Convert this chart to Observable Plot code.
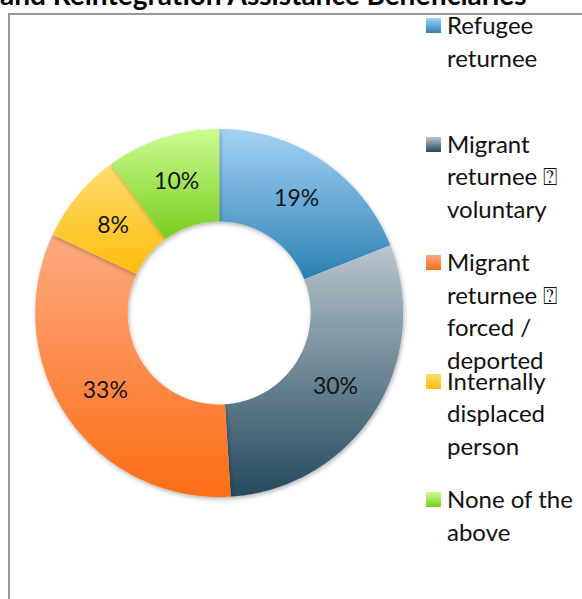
<!DOCTYPE html>
<html>
<head>
<meta charset="utf-8">
<script src="https://cdn.jsdelivr.net/npm/d3@7"></script>
<script src="https://cdn.jsdelivr.net/npm/@observablehq/plot@0.6"></script>
<style>
  html, body { margin: 0; padding: 0; background: #fff; overflow: hidden; }
  #wrap { position: relative; width: 582px; height: 599px; overflow: hidden; font-family: Lato, "Open Sans", sans-serif; }
  #title { position: absolute; left: 0; top: -20px; font-weight: bold; font-size: 28px; line-height: 28px; color: #000; white-space: nowrap; }
  #frame { position: absolute; left: 8px; top: 13px; width: 700px; height: 700px; border: 2px solid #999; box-sizing: border-box; }
  #chart { position: absolute; left: 0; top: 0; }
  .leg { position: absolute; left: 426px; font-size: 24px; line-height: 32.5px; color: #111; white-space: pre-line; }
  .leg .sw { position: absolute; left: 0; top: 9px; width: 15px; height: 15px; }
  .leg .tx { margin-left: 21px; }
</style>
</head>
<body>
<div id="wrap">
  <div id="title"></div>
  <div id="frame"></div>
  <div id="chart"></div>
</div>
<script>
// ---- data ----
const title = "and Reintegration Assistance Beneficiaries";
const categories = [
  "Refugee\nreturnee",
  "Migrant\nreturnee \u2370\nvoluntary",
  "Migrant\nreturnee \u2370\nforced /\ndeported",
  "Internally\ndisplaced\nperson",
  "None of the\nabove"
];
const values = [19, 30, 33, 8, 10];
const valueLabels = ["19%", "30%", "33%", "8%", "10%"];
const colorsTop = ["#a4d2f5", "#b8c5cd", "#fcaa80", "#ffdd70", "#cdfc92"];
const colorsBottom = ["#2a80b3", "#254a5e", "#fd6d15", "#fdbd0c", "#78cd1c"];

// ---- geometry (computed from data) ----
const W = 582, H = 599;
const cx = 218.7, cy = 312.5, Rpx = 184;
const inner = 0.497;
const total = d3.sum(values);
const cum = d3.cumsum(values);
const slices = values.map((v, i) => ({
  i, v,
  a0: ((cum[i] - v) / total) * 2 * Math.PI,
  a1: (cum[i] / total) * 2 * Math.PI
}));
const pts = [];
for (const s of slices) {
  const n = Math.max(8, Math.ceil((s.a1 - s.a0) / 0.01));
  for (let k = 0; k <= n; k++) {
    const a = s.a0 + (s.a1 - s.a0) * k / n;
    pts.push({ i: s.i, x: Math.sin(a), y: Math.cos(a) });
  }
  for (let k = n; k >= 0; k--) {
    const a = s.a0 + (s.a1 - s.a0) * k / n;
    pts.push({ i: s.i, x: inner * Math.sin(a), y: inner * Math.cos(a) });
  }
}
const rm = (1 + inner) / 2;
const labelData = slices.map(s => {
  const m = (s.a0 + s.a1) / 2;
  return { x: rm * Math.sin(m), y: rm * Math.cos(m), t: valueLabels[s.i] };
});

const chart = Plot.plot({
  width: W, height: H,
  margin: 0,
  style: { background: "transparent", overflow: "visible" },
  x: { domain: [-cx / Rpx, (W - cx) / Rpx], range: [0, W], axis: null },
  y: { domain: [(cy - H) / Rpx, cy / Rpx], range: [H, 0], axis: null },
  marks: [
    ...slices.map(s => Plot.line(pts.filter(p => p.i === s.i), {
      x: "x", y: "y", fill: `url(#grad${s.i})`, stroke: "none", curve: "linear"
    })),
    Plot.text(labelData, {
      x: "x", y: "y", text: "t", fontSize: 23, fill: "#151515",
      fontFamily: "Lato, 'Open Sans', sans-serif"
    })
  ]
});

// gradients & shadow definitions
const svg = d3.select(chart);
const defs = svg.insert("defs", ":first-child");
values.forEach((v, i) => {
  const g = defs.append("linearGradient").attr("id", `grad${i}`)
    .attr("x1", 0).attr("y1", 0).attr("x2", 0).attr("y2", 1);
  g.append("stop").attr("offset", "0%").attr("stop-color", colorsTop[i]);
  g.append("stop").attr("offset", "100%").attr("stop-color", colorsBottom[i]);
});
const f = defs.append("filter").attr("id", "shadow")
  .attr("x", "-10%").attr("y", "-10%").attr("width", "120%").attr("height", "120%");
f.append("feDropShadow").attr("dx", 1).attr("dy", 2).attr("stdDeviation", 2)
  .attr("flood-color", "#000").attr("flood-opacity", 0.3);
svg.selectAll("g[aria-label='line']").attr("filter", "url(#shadow)");

document.getElementById("chart").appendChild(chart);
document.getElementById("title").textContent = title;

// legend
const wrap = document.getElementById("wrap");
categories.forEach((c, i) => {
  const d = document.createElement("div");
  d.className = "leg";
  d.style.top = (9 + i * 118.5) + "px";
  const sw = document.createElement("div");
  sw.className = "sw";
  sw.style.background = `linear-gradient(${colorsTop[i]}, ${colorsBottom[i]})`;
  const tx = document.createElement("div");
  tx.className = "tx";
  tx.textContent = c;
  d.appendChild(sw); d.appendChild(tx);
  wrap.appendChild(d);
});
</script>
</body>
</html>
